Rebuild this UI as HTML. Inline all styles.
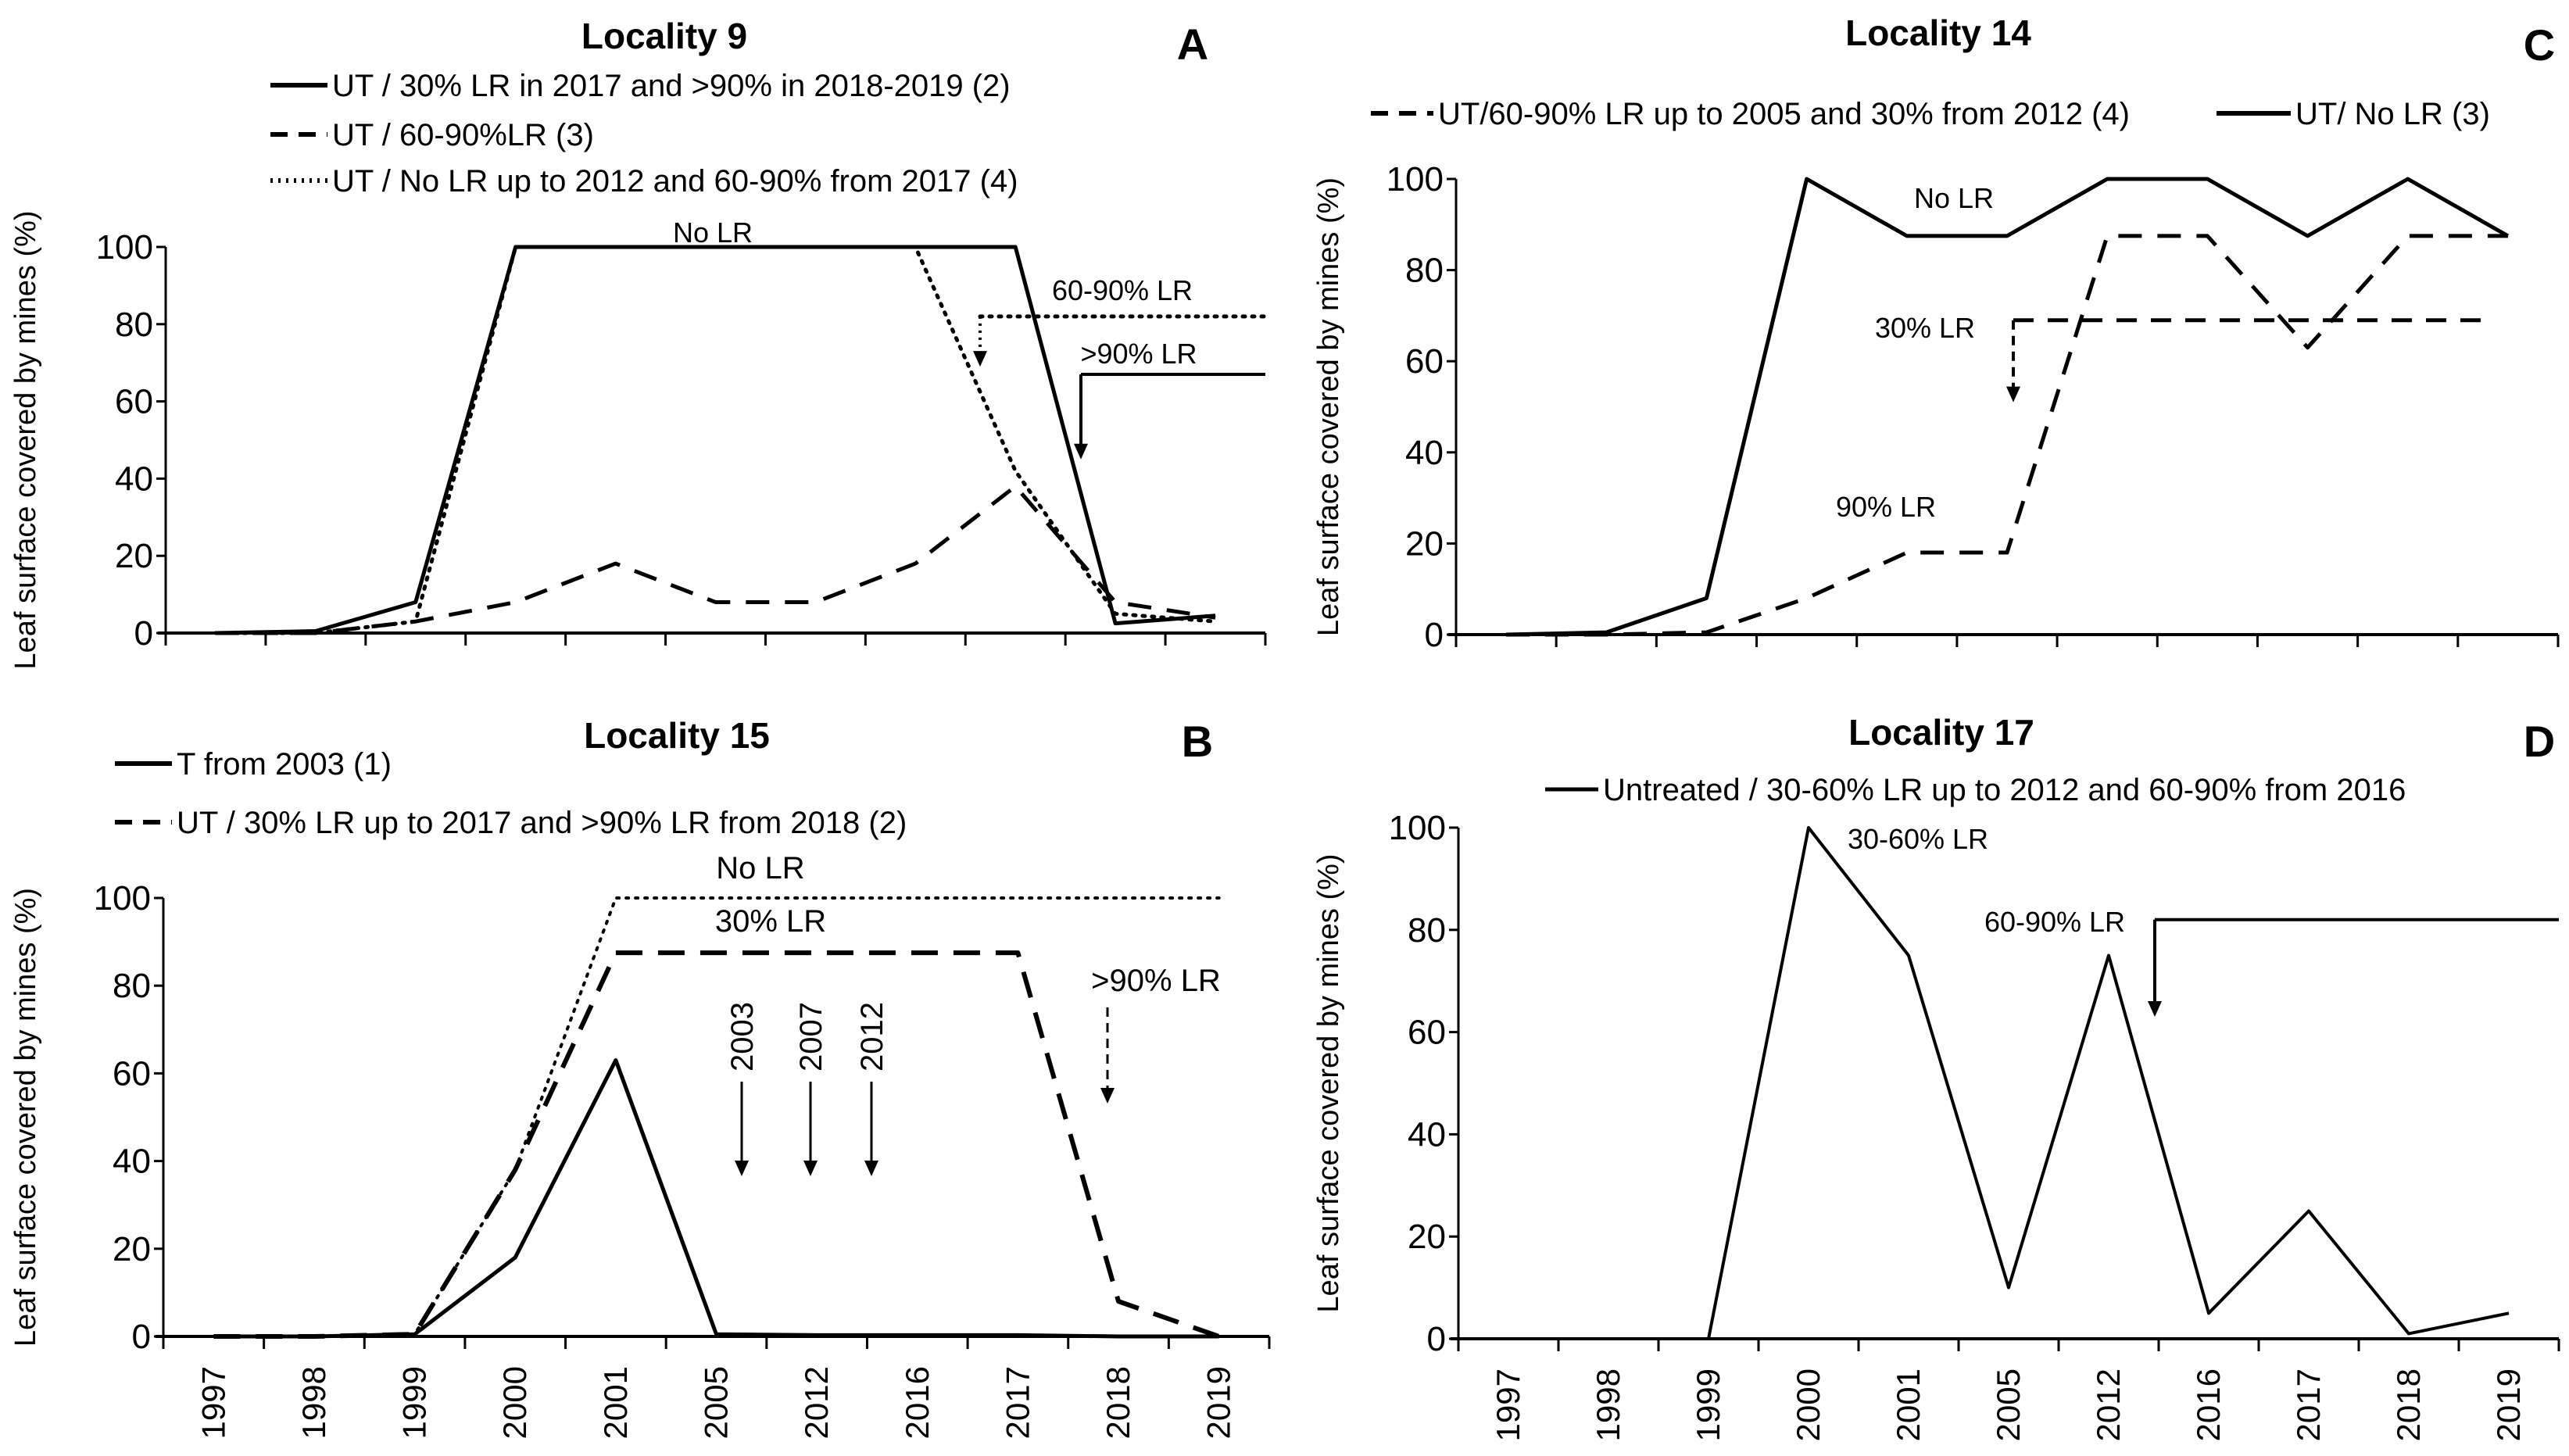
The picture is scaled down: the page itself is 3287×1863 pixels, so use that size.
<!DOCTYPE html>
<html><head><meta charset="utf-8">
<style>
html,body{margin:0;padding:0;background:#fff;}
svg{display:block;}
text{font-family:"Liberation Sans Narrow","Liberation Sans",sans-serif;fill:#000;}
.yt{font-family:"Liberation Sans",sans-serif;}
</style></head>
<body>
<svg id="fig" width="3287" height="1863" viewBox="0 0 3287 1863" xmlns="http://www.w3.org/2000/svg"></svg>
<script>
const categories = ["1997","1998","1999","2000","2001","2005","2012","2016","2017","2018","2019"];
const yTicks = [0,20,40,60,80,100];
// Panel A - Locality 9
const aSolid  = [0,0.5,8,100,100,100,100,100,100,2.5,4.5];
const aDashed = [0,0,3,8,18,8,8,18,38,8,4];
const aDotted = [0,0,3,100,100,100,100,100,42,5,3];
// Panel B - Locality 15
const bSolid  = [0,0,0.5,18,63,0.5,0.3,0.3,0.3,0,0];
const bDashed = [0,0,0.5,38,87.5,87.5,87.5,87.5,87.5,8,0];
const bDotted = [0,0,0.5,38,100,100,100,100,100,100,100];
// Panel C - Locality 14
const cSolid  = [0,0.5,8,100,87.5,87.5,100,100,87.5,100,87.5];
const cDashed = [0,0,0.5,8,18,18,87.5,87.5,63,87.5,87.5];
// Panel D - Locality 17
const dSolid  = [null,null,0,100,75,10,75,5,25,1,5];

const NS="http://www.w3.org/2000/svg";
const svg=document.getElementById('fig');
function mk(tag,attrs,parent){const e=document.createElementNS(NS,tag);for(const k in attrs)e.setAttribute(k,attrs[k]);(parent||svg).appendChild(e);return e;}
function txt(s,x,y,size,parent,extra){const t=mk('text',Object.assign({x:x,y:y,'font-size':size},extra||{}),parent);t.textContent=s;return t;}

function makePanel(p){
  const g=mk('g',{});
  
  
  const n=categories.length, cw=(p.x1-p.x0)/n;
  const X=i=>p.x0+cw*(i+0.5);
  const Y=v=>p.y0-(p.y0-p.y100)*v/100;
  p.X=X;p.Y=Y;
  const ya=mk('line',{x1:p.x0,y1:p.y100,x2:p.x0,y2:p.y0+14,stroke:'#000','stroke-width':3},g);
  
  
  const xa=mk('line',{x1:p.x0-10,y1:p.y0,x2:p.x1,y2:p.y0,stroke:'#000','stroke-width':4},g);
  
  
  yTicks.forEach(v=>{
    const tk=mk('line',{x1:p.x0-12,y1:Y(v),x2:p.x0,y2:Y(v),stroke:'#000','stroke-width':3},g);
    
    
    const t=txt(String(v),p.x0-16,Y(v)+15,44,g,{'text-anchor':'end'});
    
    
  });
  for(let i=0;i<=n;i++){
    const tk=mk('line',{x1:p.x0+cw*i,y1:p.y0,x2:p.x0+cw*i,y2:p.y0+16,stroke:'#000','stroke-width':3},g);
    
    
  }
  if(p.xlabels){
    categories.forEach((c,i)=>{
      const t=txt(c,0,0,42,g,{'text-anchor':'end',transform:`translate(${X(i)+14},${p.y0+38}) rotate(-90)`});
      
      
    });
  }
  const yt=txt('Leaf surface  covered by mines (%)',0,0,38,g,{'text-anchor':'middle',class:'yt',transform:`translate(${p.ytx},${(p.y0+p.y100)/2}) rotate(-90)`});
  
  
  const tt=txt(p.title,p.tx,p.ty,46,g,{'text-anchor':'middle','font-weight':'bold'});
  
  
  const lt=txt(p.letter,p.lx,p.ly,56,g,{'text-anchor':'middle','font-weight':'bold'});
  
  
  p.g=g;
  return p;
}
function series(p,vals,style,name){
  let d='';let started=false;
  vals.forEach((v,i)=>{if(v===null)return;d+=(started?'L':'M')+p.X(i)+','+p.Y(v)+' ';started=true;});
  const path=mk('path',Object.assign({d:d,fill:'none',stroke:'#000','stroke-linejoin':'round'},style),p.g);
  
  
  return path;
}
const SOLID={'stroke-width':5};
const THIN={'stroke-width':4};
const DASH={'stroke-width':5,'stroke-dasharray':'30 20'};
const DOT={'stroke-width':5,'stroke-dasharray':'3 9','stroke-linecap':'round'};
function legend(p,x,y,style,label,len){
  const ln=mk('line',Object.assign({x1:x,y1:y,x2:x+len,y2:y,stroke:'#000'},style),p.g);
  
  
  const t=txt(label,x+len+6,y+14,40,p.g);
  
  
}
function note(p,s,x,y,size){const t=txt(s,x,y,size||38,p.g,{'text-anchor':'middle'});
  
  }
function arrow(p,x,y1,y2,style){
  const l=mk('line',Object.assign({x1:x,y1:y1,x2:x,y2:y2-14,stroke:'#000'},style),p.g);
  
  
  const h=mk('path',{d:`M${x-9},${y2-20} L${x+9},${y2-20} L${x},${y2} Z`,fill:'#000'},p.g);
  
  
}
function hline(p,x1,x2,v,style){
  const l=mk('line',Object.assign({x1:x1,y1:p.Y(v),x2:x2,y2:p.Y(v),stroke:'#000'},style),p.g);
  
  
}

// Panel A
const A=makePanel({name:'panel-a-locality-9',x0:212,x1:1619,y100:316,y0:810,xlabels:false,ytx:45,title:'Locality 9',tx:850,ty:62,letter:'A',lx:1526,ly:76});
series(A,aSolid,SOLID,'series-a-solid');
series(A,aDashed,DASH,'series-a-dashed');
series(A,aDotted,DOT,'series-a-dotted');
legend(A,346,109,{'stroke-width':6},'UT / 30% LR in 2017 and >90% in 2018-2019 (2)',73);
legend(A,346,172,{'stroke-width':6,'stroke-dasharray':'22 14'},'UT / 60-90%LR (3)',73);
legend(A,346,231,{'stroke-width':6,'stroke-dasharray':'3 7'},'UT / No LR up to 2012 and 60-90% from 2017 (4)',73);
note(A,'No LR',912,310,36);
hline(A,1254,1619,82,DOT);
arrow(A,1254,A.Y(82),A.Y(69),{'stroke-width':4,'stroke-dasharray':'3 6'});
note(A,'60-90% LR',1436,384,36);
note(A,'>90% LR',1457,465,36);
hline(A,1383,1619,67,THIN);
arrow(A,1383,A.Y(67),A.Y(45),{'stroke-width':4});

// Panel B
const B=makePanel({name:'panel-b-locality-15',x0:209,x1:1624,y100:1149,y0:1710,xlabels:true,ytx:45,title:'Locality 15',tx:866,ty:957,letter:'B',lx:1532,ly:968});
series(B,bDotted,{'stroke-width':4,'stroke-dasharray':'3 9','stroke-linecap':'round'},'series-b-dotted');
series(B,bDashed,{'stroke-width':6,'stroke-dasharray':'34 20'},'series-b-dashed');
series(B,bSolid,SOLID,'series-b-solid');
legend(B,147,977,{'stroke-width':6},'T from 2003 (1)',73);
legend(B,147,1052,{'stroke-width':6,'stroke-dasharray':'22 14'},'UT / 30% LR up to 2017 and >90% LR from 2018 (2)',73);
note(B,'No LR',973,1124,40);
note(B,'30% LR',986,1192,40);
note(B,'>90% LR',1479,1268,40);
[['2003',949],['2007',1037],['2012',1115]].forEach(a=>{
  const t=txt(a[0],0,0,40,B.g,{'text-anchor':'end',transform:`translate(${a[1]+14},${1282}) rotate(-90)`});
  
  
  arrow(B,a[1],1384,1505,{'stroke-width':3});
});
arrow(B,1417,1289,1412,{'stroke-width':3,'stroke-dasharray':'12 8'});

// Panel C
const C=makePanel({name:'panel-c-locality-14',x0:1863,x1:3273,y100:229,y0:812,xlabels:false,ytx:1712,title:'Locality 14',tx:2480,ty:58,letter:'C',lx:3249,ly:77});
series(C,cSolid,SOLID,'series-c-solid');
series(C,cDashed,DASH,'series-c-dashed');
legend(C,1754,145,{'stroke-width':6,'stroke-dasharray':'22 14'},'UT/60-90% LR up to 2005 and 30% from 2012 (4)',80);
legend(C,2836,145,{'stroke-width':6},'UT/ No LR (3)',95);
note(C,'No LR',2500,266,36);
note(C,'30% LR',2463,432,36);
note(C,'90% LR',2413,661,36);
hline(C,2576,3181,69,{'stroke-width':5,'stroke-dasharray':'26 18'});
arrow(C,2576,C.Y(69),C.Y(51),{'stroke-width':4,'stroke-dasharray':'12 8'});

// Panel D
const D=makePanel({name:'panel-d-locality-17',x0:1866,x1:3274,y100:1059,y0:1713,xlabels:true,ytx:1712,title:'Locality 17',tx:2484,ty:953,letter:'D',lx:3249,ly:968});
series(D,dSolid,THIN,'series-d-solid');
legend(D,1977,1010,{'stroke-width':5},'Untreated / 30-60% LR up to 2012 and 60-90%  from 2016',68);
note(D,'30-60% LR',2454,1086,36);
note(D,'60-90% LR',2629,1192,36);
hline(D,2757,3274,82,{'stroke-width':4});
arrow(D,2757,D.Y(82),D.Y(63),{'stroke-width':4});
</script>
</body></html>
